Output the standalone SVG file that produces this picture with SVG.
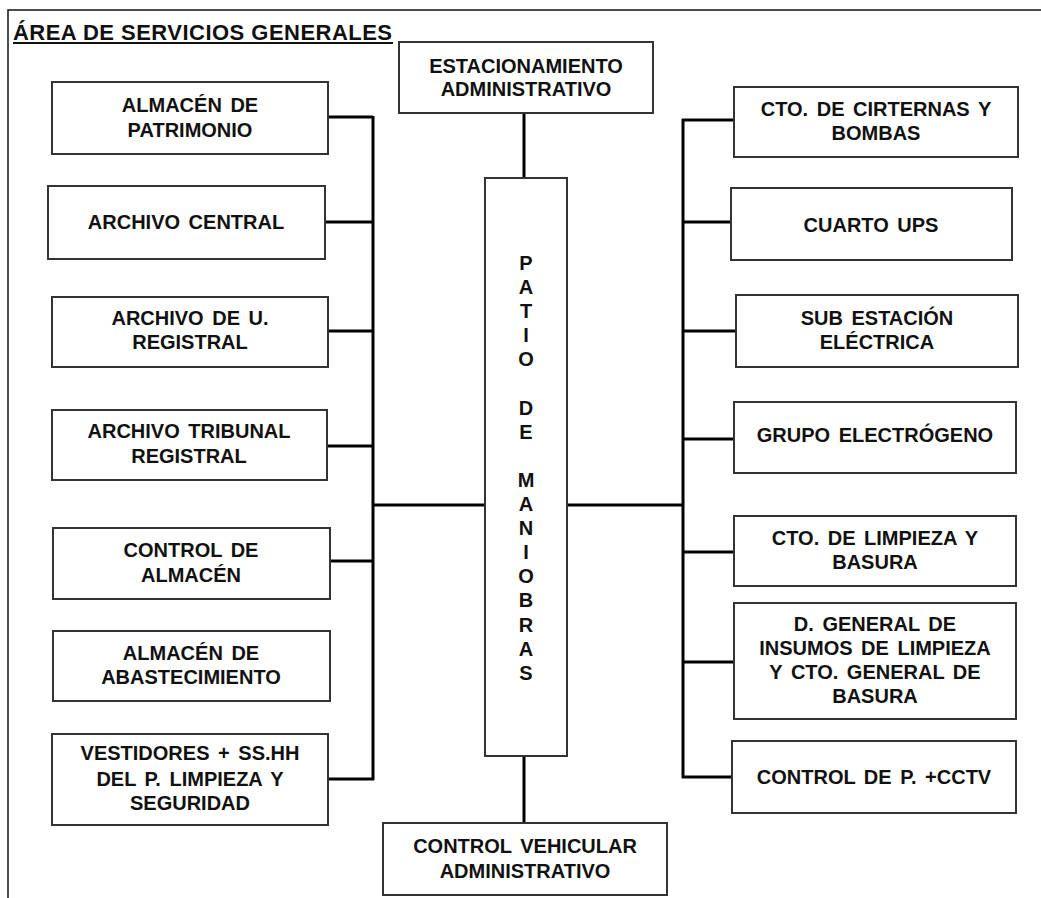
<svg xmlns="http://www.w3.org/2000/svg" width="1041" height="898" viewBox="0 0 1041 898">
<style>
.box{fill:#fff;stroke:#333;stroke-width:2}
.lbl{font-family:"Liberation Sans",Arial,sans-serif;font-weight:bold;font-size:20px;fill:#111;text-anchor:middle;word-spacing:3px}
.con{stroke:#000;stroke-width:3;fill:none}
.frame{stroke:#111;stroke-width:1.5;fill:none}
</style>
<rect width="1041" height="898" fill="#fff"/>
<g id="frame">
<path class="frame" d="M8,898 V10 H1041"/>
<text x="13" y="40" font-family="Liberation Sans,Arial,sans-serif" font-weight="bold" font-size="22" fill="#111" textLength="379" lengthAdjust="spacing">ÁREA DE SERVICIOS GENERALES</text>
<line x1="13" y1="43" x2="393" y2="43" stroke="#111" stroke-width="2"/>
</g>
<g id="connectors">
<path class="con" d="M373,116 V780"/>
<path class="con" d="M328,117 H373 M325,222 H373 M328,331 H373 M327,446 H373 M330,561 H373 M328,779 H374 M373,505 H485"/>
<path class="con" d="M683,119 V778"/>
<path class="con" d="M682,120 H734 M683,222 H731 M683,331 H736 M683,439 H734 M683,552 H734 M683,662 H734 M682,777 H732 M567,505 H683"/>
<path class="con" d="M524,113 V178 M524,756 V823"/>
</g>
<g id="n-estacionamiento"><rect class="box" x="399" y="42" width="254" height="71"/><text class="lbl" x="526" y="73">ESTACIONAMIENTO</text><text class="lbl" x="526" y="96">ADMINISTRATIVO</text></g>
<g id="n-patio"><rect class="box" x="485" y="178" width="82" height="578"/>
<text class="lbl" x="526" y="270"><tspan x="526">P</tspan><tspan x="526" dy="24.1">A</tspan><tspan x="526" dy="24.1">T</tspan><tspan x="526" dy="24.1">I</tspan><tspan x="526" dy="24.1">O</tspan><tspan x="526" dy="48.2">D</tspan><tspan x="526" dy="24.1">E</tspan><tspan x="526" dy="48.2">M</tspan><tspan x="526" dy="24.1">A</tspan><tspan x="526" dy="24.1">N</tspan><tspan x="526" dy="24.1">I</tspan><tspan x="526" dy="24.1">O</tspan><tspan x="526" dy="24.1">B</tspan><tspan x="526" dy="24.1">R</tspan><tspan x="526" dy="24.1">A</tspan><tspan x="526" dy="24.1">S</tspan></text></g>
<g id="n-control-vehicular"><rect class="box" x="383" y="823" width="284" height="72"/><text class="lbl" x="525" y="853">CONTROL VEHICULAR</text><text class="lbl" x="525" y="878">ADMINISTRATIVO</text></g>
<g id="n-almacen-patrimonio"><rect class="box" x="52" y="82" width="276" height="72"/><text class="lbl" x="190" y="112">ALMACÉN DE</text><text class="lbl" x="190" y="137">PATRIMONIO</text></g>
<g id="n-archivo-central"><rect class="box" x="48" y="186" width="277" height="73"/><text class="lbl" x="186" y="229">ARCHIVO CENTRAL</text></g>
<g id="n-archivo-u-registral"><rect class="box" x="52" y="297" width="276" height="70"/><text class="lbl" x="190" y="325">ARCHIVO DE U.</text><text class="lbl" x="190" y="349">REGISTRAL</text></g>
<g id="n-archivo-tribunal"><rect class="box" x="52" y="410" width="275" height="70"/><text class="lbl" x="189" y="438">ARCHIVO TRIBUNAL</text><text class="lbl" x="189" y="463">REGISTRAL</text></g>
<g id="n-control-almacen"><rect class="box" x="53" y="528" width="277" height="71"/><text class="lbl" x="191" y="557">CONTROL DE</text><text class="lbl" x="191" y="582">ALMACÉN</text></g>
<g id="n-almacen-abastecimiento"><rect class="box" x="53" y="631" width="277" height="70"/><text class="lbl" x="191" y="660">ALMACÉN DE</text><text class="lbl" x="191" y="684">ABASTECIMIENTO</text></g>
<g id="n-vestidores"><rect class="box" x="52" y="734" width="276" height="91"/><text class="lbl" x="190" y="760">VESTIDORES + SS.HH</text><text class="lbl" x="190" y="786">DEL P. LIMPIEZA Y</text><text class="lbl" x="190" y="810">SEGURIDAD</text></g>
<g id="n-cisternas"><rect class="box" x="734" y="87" width="284" height="70"/><text class="lbl" x="876" y="116">CTO. DE CIRTERNAS Y</text><text class="lbl" x="876" y="140">BOMBAS</text></g>
<g id="n-ups"><rect class="box" x="731" y="188" width="281" height="72"/><text class="lbl" x="871" y="232">CUARTO UPS</text></g>
<g id="n-subestacion"><rect class="box" x="736" y="295" width="282" height="72"/><text class="lbl" x="877" y="325">SUB ESTACIÓN</text><text class="lbl" x="877" y="349">ELÉCTRICA</text></g>
<g id="n-grupo"><rect class="box" x="734" y="402" width="282" height="71"/><text class="lbl" x="875" y="442">GRUPO ELECTRÓGENO</text></g>
<g id="n-limpieza"><rect class="box" x="734" y="516" width="282" height="70"/><text class="lbl" x="875" y="545">CTO. DE LIMPIEZA Y</text><text class="lbl" x="875" y="569">BASURA</text></g>
<g id="n-deposito"><rect class="box" x="734" y="603" width="282" height="116"/><text class="lbl" x="875" y="631">D. GENERAL DE</text><text class="lbl" x="875" y="655">INSUMOS DE LIMPIEZA</text><text class="lbl" x="875" y="679">Y CTO. GENERAL DE</text><text class="lbl" x="875" y="703">BASURA</text></g>
<g id="n-cctv"><rect class="box" x="732" y="741" width="284" height="72"/><text class="lbl" x="874" y="784">CONTROL DE P. +CCTV</text></g>
</svg>
